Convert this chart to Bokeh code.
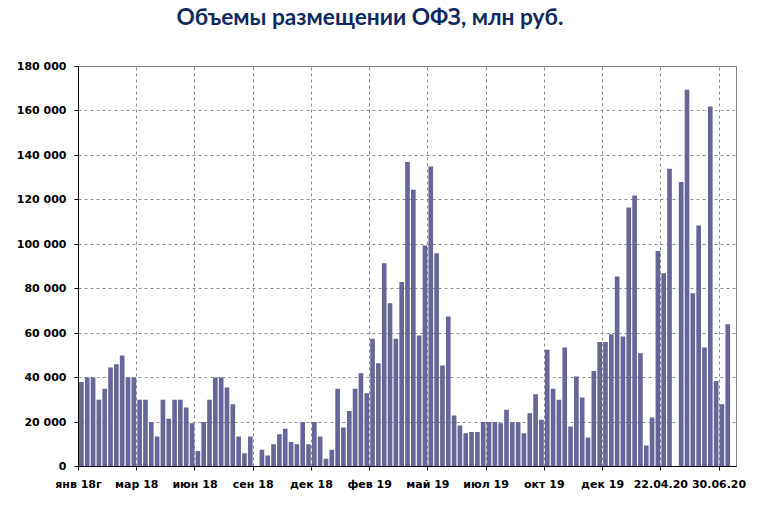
from bokeh.plotting import figure
from bokeh.models import FixedTicker, Range1d, Title
from bokeh.embed import file_html
from bokeh.resources import INLINE

title_text = "Объемы размещении ОФЗ, млн руб."

# weekly OFZ placement volumes, mln RUB, one per auction slot
values = [
    38000, 40000, 40000, 30000, 35000, 44500, 46000, 50000, 40000, 40000,
    30000, 30000, 20000, 13500, 30000, 21500, 30000, 30000, 26500, 19500,
    7000, 20000, 30000, 40000, 40000, 35500, 28000, 13500, 6000, 13500,
    0, 7500, 5000, 10000, 14500, 17000, 11000, 10000, 20000, 10000,
    20000, 13500, 3500, 7500, 35000, 17500, 25000, 35000, 42000, 33000,
    57500, 46500, 91500, 73500, 57500, 83000, 137000, 124500, 59000, 99500,
    135000, 96000, 45500, 67500, 23000, 18500, 15000, 15500, 15500, 20000,
    20000, 20000, 19500, 25500, 20000, 20000, 15000, 24000, 32500, 21000,
    52500, 35000, 30000, 53500, 18000, 40500, 31000, 13000, 43000, 56000,
    56000, 59500, 85500, 58500, 116500, 122000, 51000, 9500, 22000, 97000,
    87000, 134000, 0, 128000, 169500, 78000, 108500, 53500, 162000, 38500,
    28000, 64000, 0,
]

tick_labels = ["янв 18г", "мар 18", "июн 18", "сен 18", "дек 18", "фев 19",
               "май 19", "июл 19", "окт 19", "дек 19", "22.04.20", "30.06.20"]
label_every = 10
y_max = 180000
y_step = 20000

n = len(values)
xs = [i + 0.5 for i in range(n)]
x_ticks = [i * label_every for i in range(len(tick_labels))]
y_ticks = list(range(0, y_max + 1, y_step))

frame_w, frame_h = 658, 400
left, right, top, bottom = 78, 25, 66, 36

p = figure(width=left + frame_w + right, height=top + frame_h + bottom,
           output_backend="svg", toolbar_location=None,
           x_range=Range1d(0, n), y_range=Range1d(0, y_max),
           min_border_left=left, min_border_right=right, min_border_top=top,
           min_border_bottom=bottom, background_fill_color="white",
           border_fill_color="white")

p.vbar(x=xs, top=values, width=0.8, fill_color="#666699", line_color=None)

# title: an empty spacer panel next to the frame, the real title above it
title_font = dict(text_font="Lato", text_font_style="bold",
                  text_font_size="22.7px")
spacer = Title(text=" ", standoff=4, **title_font)
main_title = Title(text=title_text, align="left", offset=98,
                   vertical_align="top", standoff=4, text_color="#10295f",
                   **title_font)
p.add_layout(spacer, "above")
p.add_layout(main_title, "above")

# outline (top/right border)
p.outline_line_color = "#808080"
p.outline_line_width = 1

# axes
label_font = "DejaVu Sans"
p.xaxis.ticker = FixedTicker(ticks=x_ticks)
p.xaxis.major_label_overrides = {t: lab for t, lab in zip(x_ticks, tick_labels)}
p.yaxis.ticker = FixedTicker(ticks=y_ticks)
p.yaxis.major_label_overrides = {t: f"{t:,}".replace(",", " ") for t in y_ticks}
for ax in (p.xaxis[0], p.yaxis[0]):
    ax.axis_line_color = "black"
    ax.axis_line_width = 1
    ax.major_tick_line_color = "black"
    ax.major_tick_out = 4
    ax.major_tick_in = 0
    ax.minor_tick_line_color = None
    ax.major_label_text_font = label_font
    ax.major_label_text_font_style = "bold"
    ax.major_label_text_font_size = "11px"
    ax.major_label_text_color = "black"
p.xaxis.major_label_standoff = 7
p.yaxis.major_label_standoff = 8

# grids
p.xgrid.ticker = FixedTicker(ticks=x_ticks)
p.ygrid.ticker = FixedTicker(ticks=y_ticks)
for g in (p.xgrid[0], p.ygrid[0]):
    g.grid_line_color = "#8c8c8c"
    g.grid_line_dash = "3 3"
    g.grid_line_width = 1

open("out.html", "w").write(file_html(p, INLINE))
